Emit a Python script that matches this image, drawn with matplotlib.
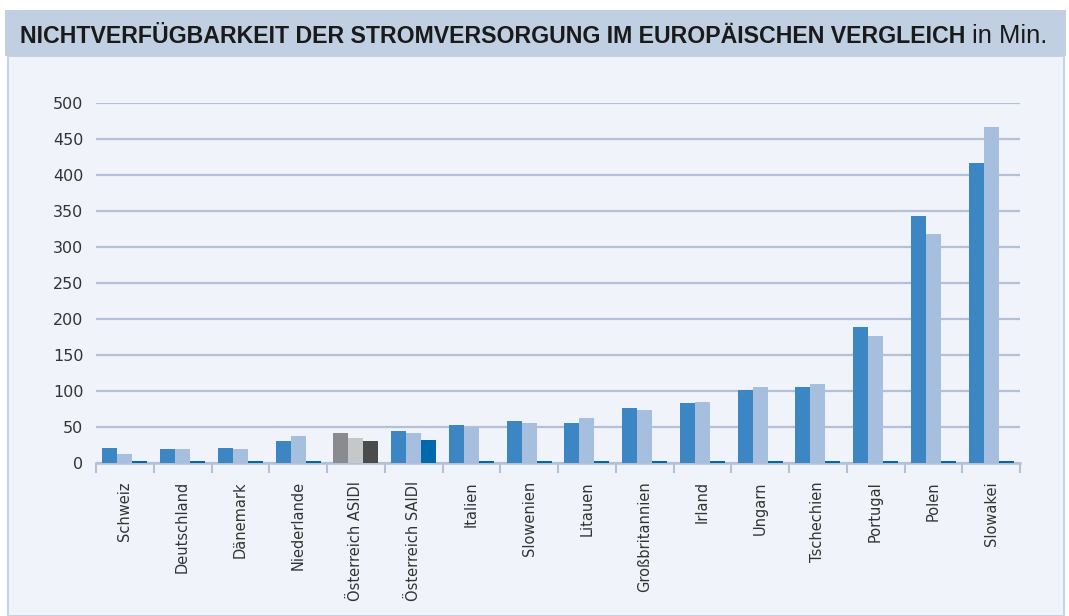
import matplotlib
matplotlib.use("Agg")
import matplotlib.pyplot as plt
import numpy as np
from matplotlib.patches import Rectangle
from matplotlib import font_manager as fm

categories = ["Schweiz", "Deutschland", "Dänemark", "Niederlande", "Österreich ASIDI",
              "Österreich SAIDI", "Italien", "Slowenien", "Litauen", "Großbritannien",
              "Irland", "Ungarn", "Tschechien", "Portugal", "Polen", "Slowakei"]
series1 = [21, 19, 21, 30, 41, 45, 53, 58, 56, 77, 84, 102, 106, 189, 343, 417]
series2 = [12, 19, 20, 38, 35, 41, 50, 55, 63, 74, 85, 106, 110, 177, 318, 467]
series3 = [3, 3, 3, 3, 31, 32, 3, 3, 3, 3, 3, 3, 3, 3, 3, 3]
yticks = [0, 50, 100, 150, 200, 250, 300, 350, 400, 450, 500]

W, H = 1069, 616
fig = plt.figure(figsize=(W / 100, H / 100), dpi=100)
fig.patch.set_facecolor("white")

# panel and title bar
fig.patches.append(Rectangle((8 / W, 0), (1064 - 8) / W, 1 - 56 / H, transform=fig.transFigure,
                             facecolor="#f0f4fa", edgecolor="#c5d3e6", linewidth=1.5, zorder=-2))
fig.patches.append(Rectangle((5 / W, 1 - 56 / H), (1066 - 5) / W, 46 / H, transform=fig.transFigure,
                             facecolor="#c0d0e2", edgecolor="none", zorder=-2))

names = {f.name for f in fm.fontManager.ttflist}
tfont = "Liberation Sans Narrow" if "Liberation Sans Narrow" in names else "Liberation Sans"

t1 = fig.text(20 / W, 1 - 43 / H, "NICHTVERFÜGBARKEIT DER STROMVERSORGUNG IM EUROPÄISCHEN VERGLEICH",
              fontsize=15, fontweight="bold", family=tfont, color="#1a1a1a", va="baseline", ha="left")
fig.canvas.draw()
r = fig.canvas.get_renderer()
bb = t1.get_window_extent(r)
target = 950.0
t1.set_fontsize(min(17.5, 15 * target / bb.width))
fig.canvas.draw()
bb = t1.get_window_extent(r)
t2 = fig.text((bb.x1 + 7) / W, 1 - 43 / H, "in Min.", fontsize=t1.get_fontsize() * 1.1, family=tfont,
              color="#1a1a1a", va="baseline", ha="left")

ax = fig.add_axes([96 / W, 1 - 463 / H, (1020 - 96) / W, (463 - 103) / H])
ax.set_facecolor("none")
x = np.arange(len(categories))
w = 0.26
c1 = ["#3c87c3"] * len(categories)
c2 = ["#a6bfdf"] * len(categories)
c3 = ["#0068ad"] * len(categories)
i = categories.index("Österreich ASIDI")
c1[i], c2[i], c3[i] = "#8a8b8e", "#c6c7c9", "#4a4b4d"
ax.bar(x - w, series1, w, color=c1, zorder=3)
ax.bar(x, series2, w, color=c2, zorder=3)
ax.bar(x + w, series3, w, color=c3, zorder=3)

ax.set_xlim(-0.5, len(categories) - 0.5)
ax.set_ylim(0, 500)
ax.set_yticks(yticks)
ax.yaxis.grid(True, color="#b4c0d6", linewidth=1.6, zorder=1)
ax.set_axisbelow(True)
for s in ["top", "right", "left"]:
    ax.spines[s].set_visible(False)
ax.spines["bottom"].set_color("#b4c0d6")
ax.spines["bottom"].set_linewidth(1.8)
ax.tick_params(axis="y", length=0, pad=9, labelsize=11.5, labelcolor="#333333")
ax.set_xticks(x)
ax.set_xticklabels(categories, rotation=90, fontsize=10.5, color="#333333")
ax.set_xticks(np.arange(-0.5, len(categories), 1), minor=True)
ax.tick_params(axis="x", which="major", length=0, pad=13)
ax.tick_params(axis="x", which="minor", length=7, width=1.5, color="#b4c0d6")

fig.savefig("out.png", dpi=100, facecolor=fig.get_facecolor())
